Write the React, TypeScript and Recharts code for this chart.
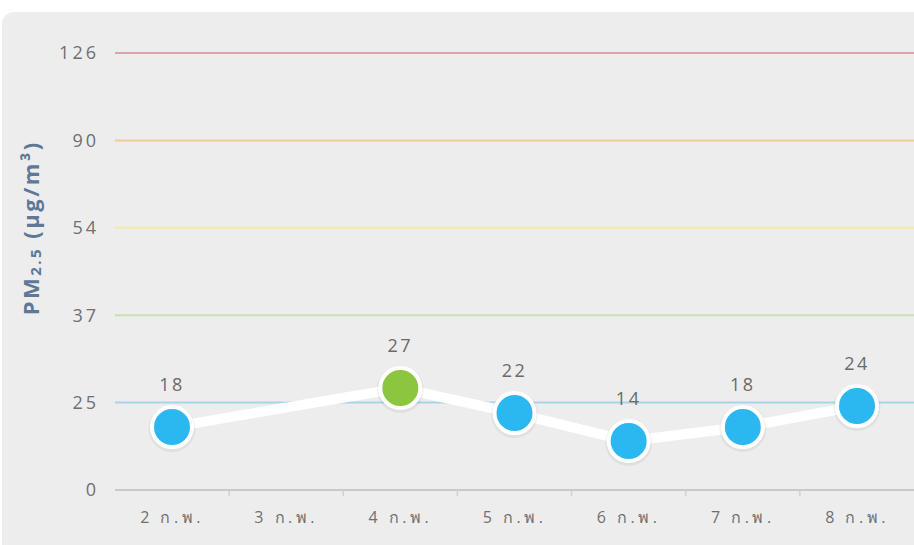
import React from 'react';
import { LineChart, Line, XAxis, YAxis, ReferenceLine, LabelList } from 'recharts';

const dates = ['2 ก.พ.', '3 ก.พ.', '4 ก.พ.', '5 ก.พ.', '6 ก.พ.', '7 ก.พ.', '8 ก.พ.'];
const pm25: (number | null)[] = [18, null, 27, 22, 14, 18, 24];
const levels = [0, 25, 37, 54, 90, 126];
const levelColors = ['#c9c9c9', '#a6d5ea', '#cadfb2', '#f1ec9e', '#eecb98', '#dfa4ab'];
const pointColors = ['#2bb7ef', '#8cc63f', '#f2e33c', '#f7a331', '#e5424d'];
const boundaryTicks = [1, 2, 3, 4, 5, 6];

// piecewise-linear position so that the level ticks are evenly spaced
const toPos = (v: number) => {
  for (let i = 0; i < levels.length - 1; i++) {
    if (v <= levels[i + 1]) return i + (v - levels[i]) / (levels[i + 1] - levels[i]);
  }
  return levels.length - 1;
};
const colorFor = (v: number) => {
  for (let i = 0; i < levels.length - 1; i++) if (v <= levels[i + 1]) return pointColors[i];
  return pointColors[pointColors.length - 1];
};

const rows = dates.map((d, i) => ({
  date: d,
  slot: i + 0.5,
  value: pm25[i],
  pos: pm25[i] == null ? null : toPos(pm25[i] as number),
}));

const FONT = '"Open Sans", "DejaVu Sans", sans-serif';

const Dot = (props: any) => {
  const { cx, cy, payload } = props;
  if (payload == null || payload.value == null || cx == null || cy == null) return <g />;
  return (
    <g>
      <circle cx={cx} cy={cy + 1.5} r={23.5} fill="rgba(0,0,0,0.05)" />
      <circle cx={cx} cy={cy} r={20} fill={colorFor(payload.value)} stroke="#ffffff" strokeWidth={4} />
    </g>
  );
};

const YLabel = (props: any) => {
  const vb = props.viewBox || { x: 0, y: 0, height: 0 };
  const x = vb.x - 25;
  const y = vb.y + vb.height * 0.4;
  return (
    <text
      x={x}
      y={y}
      transform={`rotate(-90, ${x}, ${y})`}
      textAnchor="middle"
      dominantBaseline="central"
      fill="#5f7897"
      fontWeight="bold"
      fontFamily={FONT}
      style={{ fontSize: 22, letterSpacing: 2.5 }}
    >
      PM
      <tspan style={{ fontSize: 15 }} dy={5}>2.5</tspan>
      <tspan dy={-5}> (µg/m³)</tspan>
    </text>
  );
};

export default function App() {
  return (
    <div style={{ position: 'fixed', left: 0, top: 0, width: 914, height: 545, background: '#ffffff', overflow: 'hidden' }}>
      <div style={{ position: 'absolute', left: 2, top: 12, width: 950, height: 580, background: '#ededed', borderRadius: 12 }} />
      <div style={{ position: 'absolute', left: 0, top: 0 }}>
        <LineChart width={914} height={545} data={rows} margin={{ top: 53, right: 0, bottom: 0, left: 55 }}>
          <XAxis
            xAxisId="a"
            type="number"
            dataKey="slot"
            domain={[0, 7]}
            allowDataOverflow
            hide
            height={0}
          />
          <XAxis
            xAxisId="b"
            dataKey="date"
            type="category"
            padding={{ left: 57, right: 57 }}
            axisLine={false}
            tickLine={false}
            tickSize={0}
            tickMargin={22}
            height={55}
            interval={0}
            tick={{ fill: '#707070', fontSize: 16, fontFamily: FONT, letterSpacing: 3.5 }}
          />
          <YAxis
            type="number"
            domain={[0, 5]}
            ticks={[0, 1, 2, 3, 4, 5]}
            tickFormatter={(i: number) => String(levels[i])}
            axisLine={false}
            tickLine={false}
            tickSize={0}
            tickMargin={16}
            width={60}
            tick={{ fill: '#707070', fontSize: 18, fontFamily: FONT, letterSpacing: 3 }}
            label={<YLabel />}
          />
          {levels.map((lv, i) => (
            <ReferenceLine
              key={lv}
              xAxisId="a"
              y={i}
              stroke={levelColors[i]}
              strokeWidth={2}
            />
          ))}
          {boundaryTicks.map((b) => (
            <ReferenceLine
              key={'t' + b}
              xAxisId="a"
              segment={[{ x: b, y: 0 }, { x: b, y: -0.07 }]}
              stroke="#d0d0d0"
              strokeWidth={1.5}
              ifOverflow="visible"
            />
          ))}
          <Line
            xAxisId="b"
            dataKey="pos"
            stroke="#ffffff"
            strokeWidth={10}
            connectNulls
            dot={<Dot />}
            activeDot={false}
            isAnimationActive={false}
          >
            <LabelList
              dataKey="value"
              position="top"
              offset={36}
              fill="#6a6a6a"
              fontSize={18}
              fontFamily={FONT}
              style={{ letterSpacing: 2.5 }}
            />
          </Line>
        </LineChart>
      </div>
    </div>
  );
}
